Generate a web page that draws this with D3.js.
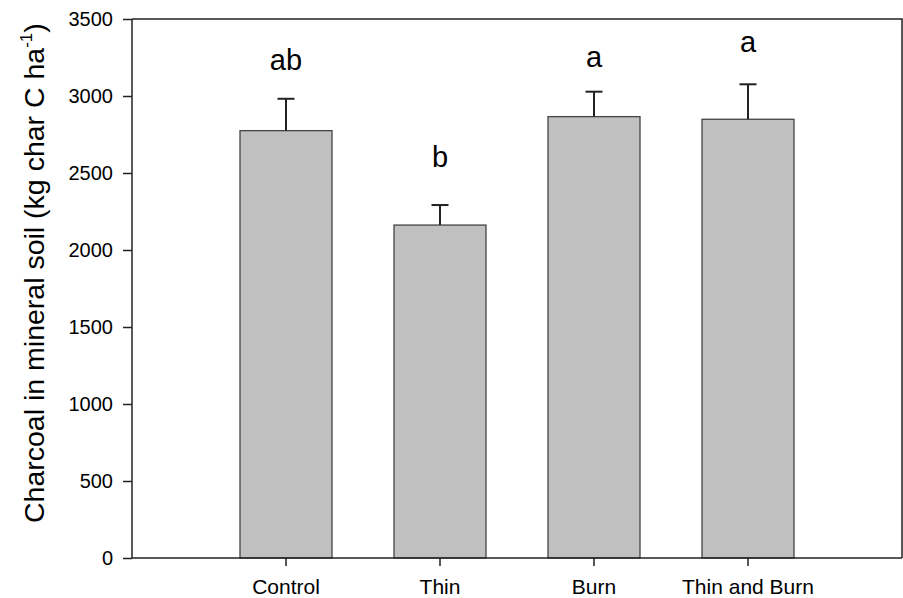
<!DOCTYPE html>
<html>
<head>
<meta charset="utf-8">
<script src="https://cdn.jsdelivr.net/npm/d3@7"></script>
<style>
  html, body { margin: 0; padding: 0; background: #fff; }
  svg { display: block; font-family: "Liberation Sans", Arial, Helvetica, sans-serif; }
</style>
</head>
<body>
<svg id="chart" width="903" height="598"></svg>
<script>
// Treatments and mean charcoal stock (kg char C per ha) with standard errors
const categories = ["Control", "Thin", "Burn", "Thin and Burn"];
const means = [2775, 2162, 2866, 2849];
const errors = [207, 130, 162, 227];
// Significance letters and the value level their baseline sits at
const letters = ["ab", "b", "a", "a"];
const letterLevels = [3169, 2539, 3188, 3286];
const yTicks = [0, 500, 1000, 1500, 2000, 2500, 3000, 3500];

const svg = d3.select("#chart");
const plotLeft = 132, plotRight = 902, plotTop = 19, plotBottom = 558;

const x = d3.scaleBand()
  .domain(categories)
  .range([plotLeft, plotRight])
  .paddingInner(0.4026)
  .paddingOuter(0.7013);

const y = d3.scaleLinear().domain([0, 3500]).range([plotBottom, plotTop]);

// Frame: top and right edges
svg.append("path")
  .attr("d", `M${plotLeft},${plotTop}H${plotRight}V${plotBottom}`)
  .attr("fill", "none")
  .attr("stroke", "#222")
  .attr("stroke-width", 1.5);

// Bars
svg.append("g").selectAll("rect")
  .data(categories)
  .join("rect")
  .attr("x", d => x(d))
  .attr("width", x.bandwidth())
  .attr("y", (d, i) => y(means[i]))
  .attr("height", (d, i) => y(0) - y(means[i]))
  .attr("fill", "#c0c0c0")
  .attr("stroke", "#444")
  .attr("stroke-width", 1.3);

// Upper error bars
const eb = svg.append("g").attr("stroke", "#222").attr("stroke-width", 2);
categories.forEach((c, i) => {
  const cx = x(c) + x.bandwidth() / 2;
  eb.append("line")
    .attr("x1", cx).attr("x2", cx)
    .attr("y1", y(means[i])).attr("y2", y(means[i] + errors[i]));
  eb.append("line")
    .attr("x1", cx - 8.5).attr("x2", cx + 8.5)
    .attr("y1", y(means[i] + errors[i])).attr("y2", y(means[i] + errors[i]));
});

// Significance letters
svg.append("g").selectAll("text")
  .data(categories)
  .join("text")
  .attr("x", d => x(d) + x.bandwidth() / 2)
  .attr("y", (d, i) => y(letterLevels[i]))
  .attr("text-anchor", "middle")
  .attr("font-size", 29)
  .attr("fill", "#000")
  .text((d, i) => letters[i]);

// Y axis
const yAxis = svg.append("g")
  .attr("transform", `translate(${plotLeft},0)`)
  .call(d3.axisLeft(y).tickValues(yTicks).tickSize(9).tickPadding(10).tickFormat(d3.format("d")));
yAxis.selectAll("text").attr("font-size", 20).attr("fill", "#000");
yAxis.selectAll("line").attr("stroke", "#222").attr("stroke-width", 1.5);
yAxis.select(".domain").attr("stroke", "#222").attr("stroke-width", 1.5).attr("d", `M0,${plotTop}V${plotBottom}`);
yAxis.attr("font-family", null);

// X axis
const xAxis = svg.append("g")
  .attr("transform", `translate(0,${plotBottom})`)
  .call(d3.axisBottom(x).tickSize(8).tickPadding(13));
xAxis.selectAll("text").attr("font-size", 21).attr("fill", "#000");
xAxis.selectAll("line").attr("stroke", "#222").attr("stroke-width", 1.5);
xAxis.select(".domain").attr("stroke", "#222").attr("stroke-width", 1.5).attr("d", `M${plotLeft},0H${plotRight}`);
xAxis.attr("font-family", null);

// Y axis title
const title = svg.append("text")
  .attr("transform", "translate(44,523) rotate(-90)")
  .attr("text-anchor", "start")
  .attr("font-size", 28.5)
  .attr("fill", "#000");
title.append("tspan").text("Charcoal in mineral soil (kg char C ha");
title.append("tspan").attr("font-size", 17).attr("dy", -12).text("-1");
title.append("tspan").attr("dy", 12).text(")");
</script>
</body>
</html>
